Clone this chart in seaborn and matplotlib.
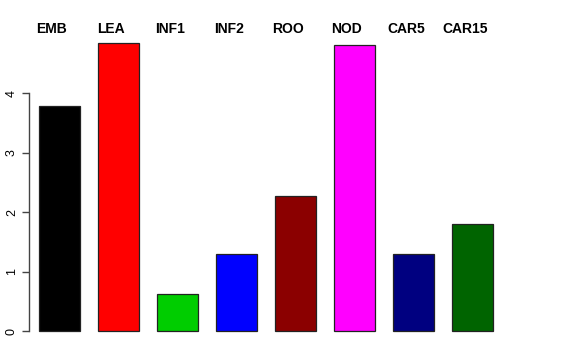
import matplotlib
matplotlib.use("Agg")
import matplotlib.pyplot as plt
import seaborn as sns
import pandas as pd

tissues = ["EMB", "LEA", "INF1", "INF2", "ROO", "NOD", "CAR5", "CAR15"]
values = [3.78, 4.84, 0.62, 1.29, 2.27, 4.81, 1.29, 1.80]
colors = ["#000000", "#FF0000", "#00CD00", "#0000FF", "#8B0000", "#FF00FF", "#000080", "#006400"]
yticks = [0, 1, 2, 3, 4]

sns.set_style("white")
plt.rcParams["font.family"] = ["Liberation Sans", "DejaVu Sans"]
plt.rcParams["text.color"] = "black"
plt.rcParams["ytick.color"] = "black"

df = pd.DataFrame({"tissue": tissues, "value": values})

fig = plt.figure(figsize=(5.76, 3.6), dpi=100)
ax = fig.add_axes([20 / 576, 20 / 360, 540 / 576, 320 / 360])

sns.barplot(data=df, x="tissue", y="value", hue="tissue", palette=colors,
            legend=False, width=0.695, edgecolor="#222222", linewidth=0.9,
            saturation=1, ax=ax)

ax.set_xlim(-0.669, 8.483)
ax.set_ylim(-0.151, 5.227)

for i, name in enumerate(tissues):
    ax.text(i - 0.13, 5.076, name, ha="center", va="center",
            fontsize=10, fontweight="bold", color="black")

for s in ["top", "right", "bottom"]:
    ax.spines[s].set_visible(False)
ax.spines["left"].set_position(("data", -0.517))
ax.spines["left"].set_bounds(0, 4)
ax.spines["left"].set_color("#444444")
ax.spines["left"].set_linewidth(1.0)

ax.set_xticks([])
ax.set_yticks(yticks)
ax.set_yticklabels([str(t) for t in yticks], rotation=90, va="center", fontsize=9)
ax.tick_params(axis="y", direction="out", length=5, width=1.0, color="#444444",
               labelcolor="black", pad=3, left=True)
ax.set_xlabel("")
ax.set_ylabel("")

fig.savefig("out.png", dpi=100)
